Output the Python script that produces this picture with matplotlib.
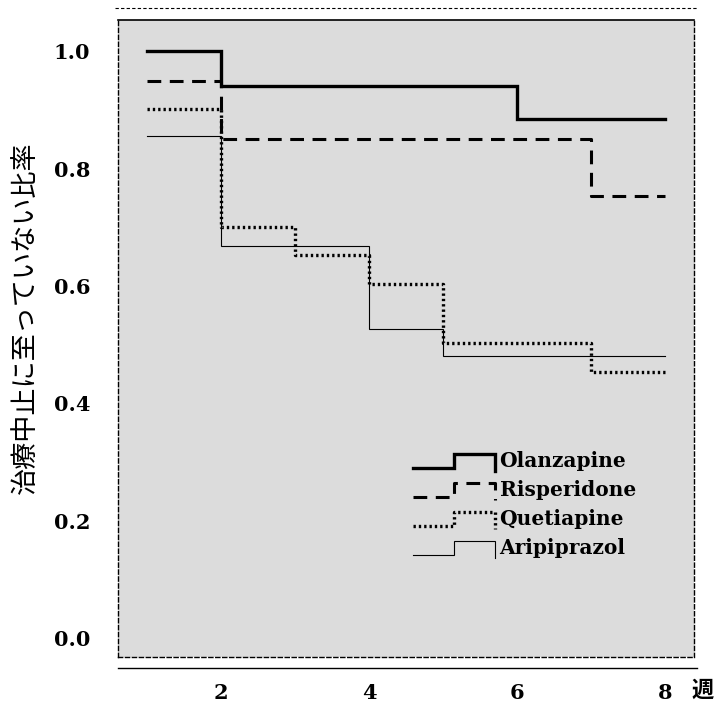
import matplotlib
matplotlib.use("Agg")
import matplotlib.pyplot as plt
from matplotlib.lines import Line2D
from matplotlib.legend_handler import HandlerBase

# ---- data ----
weeks = [1, 2, 3, 4, 5, 6, 7, 8]
olanzapine = [1.0, 0.94, 0.94, 0.94, 0.94, 0.884, 0.884, 0.884]
risperidone = [0.949, 0.85, 0.85, 0.85, 0.85, 0.85, 0.753, 0.753]
quetiapine = [0.901, 0.70, 0.653, 0.603, 0.503, 0.503, 0.454, 0.454]
aripiprazol = [0.856, 0.668, 0.668, 0.527, 0.48, 0.48, 0.48, 0.48]
series_names = ["Olanzapine", "Risperidone", "Quetiapine", "Aripiprazol"]
xticks = [2, 4, 6, 8]
yticks = [0.0, 0.2, 0.4, 0.6, 0.8, 1.0]
ylabel = "治療中止に至っていない比率"
xlabel = "週"

styles = [
    dict(color="black", lw=2.4, ls="-"),
    dict(color="black", lw=2.2, ls=(0, (4.5, 2.8))),
    dict(color="black", lw=2.4, ls=(0, (0.7, 0.9))),
    dict(color="black", lw=0.8, ls="-"),
]


class StepHandler(HandlerBase):
    def create_artists(self, legend, orig_handle, xdescent, ydescent,
                       width, height, fontsize, trans):
        x0 = -xdescent
        y0 = -ydescent
        w, h = width, height
        xs = [x0, x0 + 0.5 * w, x0 + 0.5 * w, x0 + w, x0 + w]
        ys = [y0 - 0.05 * h, y0 - 0.05 * h, y0 + 0.95 * h, y0 + 0.95 * h, y0 - 0.25 * h]
        ln = Line2D(xs, ys)
        ln.update_from(orig_handle)
        ln.set_data(xs, ys)
        ln.set_transform(trans)
        return [ln]


fig = plt.figure(figsize=(7.25, 7.05), dpi=100)
fig.patch.set_facecolor("white")
ax = fig.add_axes([118 / 725, 1 - 657 / 705, (694 - 118) / 725, (657 - 20) / 705])
ax.set_facecolor("#dcdcdc")

handles = []
for vals, name, st in zip([olanzapine, risperidone, quetiapine, aripiprazol], series_names, styles):
    (h,) = ax.step(weeks, vals, where="post", label=name, color=st["color"],
                   linewidth=st["lw"], linestyle=st["ls"], solid_joinstyle="miter",
                   dash_capstyle="butt")
    handles.append(h)

ax.set_xlim(0.61, 8.39)
ax.set_ylim(-0.032, 1.053)
ax.set_xticks(xticks)
ax.set_xticklabels([str(t) for t in xticks])
ax.set_yticks(yticks)
ax.set_yticklabels([f"{t:.1f}" for t in yticks])
ax.tick_params(length=0)
ax.tick_params(axis="x", pad=19)
ax.tick_params(axis="y", pad=20)
for lab in ax.get_xticklabels() + ax.get_yticklabels():
    lab.set_fontfamily("DejaVu Serif")
    lab.set_fontweight("bold")
    lab.set_fontsize(15)

for side in ["left", "right", "bottom"]:
    ax.spines[side].set_linestyle((0, (3, 2)))
    ax.spines[side].set_linewidth(1.0)
ax.spines["top"].set_linewidth(1.2)

# outer decorative lines
fig.add_artist(Line2D([115 / 725, 697 / 725], [1 - 8 / 705, 1 - 8 / 705],
                      transform=fig.transFigure, color="black", lw=0.8, ls=(0, (3, 2))))
fig.add_artist(Line2D([118 / 725, 697 / 725], [1 - 668 / 705, 1 - 668 / 705],
                      transform=fig.transFigure, color="black", lw=1.0))

fig.text(25 / 725, 1 - 318 / 705, ylabel, fontfamily=["Noto Sans CJK JP", "DejaVu Sans"],
         fontsize=19.5, rotation=90, ha="center", va="center")
fig.text(703 / 725, 1 - 690 / 705, xlabel, fontfamily=["Noto Sans CJK JP", "DejaVu Sans"],
         fontsize=16, fontweight="bold", ha="center", va="center")

leg = ax.legend(handles=handles, labels=series_names,
                handler_map={Line2D: StepHandler()},
                loc="upper left", bbox_to_anchor=((413 - 118) / 576, 1 - (451 - 20) / 637),
                frameon=False, handlelength=4.05, handletextpad=0.25, labelspacing=0.45,
                borderpad=0, borderaxespad=0,
                prop={"family": "DejaVu Serif", "weight": "bold", "size": 14.5})

fig.savefig("out.png", dpi=100, facecolor="white")
